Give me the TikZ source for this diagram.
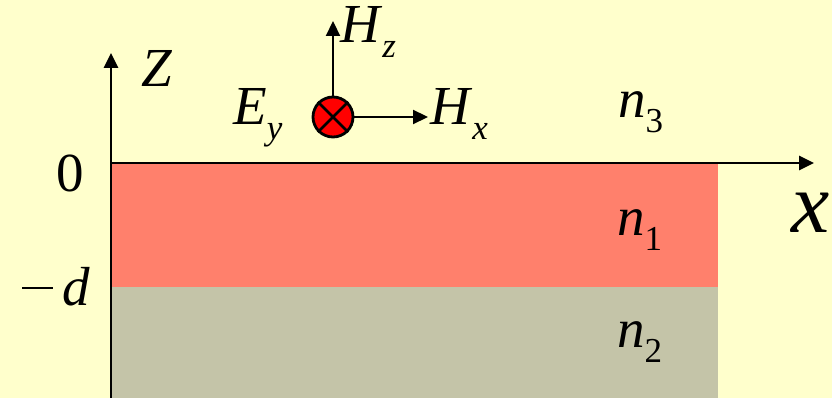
\documentclass[tikz,border=0pt]{standalone}
\usepackage{fontspec}
\setmainfont{Liberation Serif}[ItalicFont={Liberation Serif Italic}]
\usetikzlibrary{arrows.meta}
\definecolor{bg}{RGB}{255,255,204}
\definecolor{redlayer}{RGB}{255,128,108}
\definecolor{graylayer}{RGB}{196,196,168}
\newcommand\bigf{\fontsize{55}{60}\selectfont}
\newcommand\subf{\fontsize{35}{38}\selectfont}
\newcommand\Var[2]{\textit{#1}\raisebox{-15pt}{\subf #2}}
\begin{document}
\begin{tikzpicture}[x=1pt,y=-1pt,
  lbl/.style={inner sep=0pt, anchor=base west, font=\bigf},
  axis/.style={line width=2.8pt, -{Triangle[length=15pt,width=14pt]}},
  vec/.style={line width=2.2pt, -{Triangle[length=15pt,width=14pt]}}]
\fill[bg] (0,0) rectangle (832,398);
\useasboundingbox (0,0) rectangle (832,398);
\fill[redlayer] (111,163) rectangle (718,287);
\fill[graylayer] (111,287) rectangle (718,398);
\coordinate (o) at (111,163);
\coordinate (zb) at (111,398);
\coordinate (zt) at (111,53);
\coordinate (xt) at (814,163);
\draw[axis] (zb) -- (zt);
\draw[axis] (o) -- (xt);
\node[circle, draw, line width=2.8pt, fill=red, minimum size=40pt, inner sep=0pt] (c) at (333,117) {};
\draw[line width=2.6pt] (c.north west) -- (c.south east);
\draw[line width=2.6pt] (c.north east) -- (c.south west);
\coordinate (hzt) at (333,21);
\coordinate (hxt) at (428,117);
\draw[vec] (c.north) -- (hzt);
\draw[vec] (c.east) -- (hxt);
\node[lbl] (Hz) at (340,43) {\Var{H}{\textit{z}}};
\node[lbl] (Hx) at (430,125) {\Var{H}{\textit{x}}};
\node[lbl] (Ey) at (233,125) {\Var{E}{\textit{y}}};
\node[lbl] (n3) at (618,118) {\Var{n}{3}};
\node[lbl] (n1) at (617,235) {\Var{n}{1}};
\node[lbl] (n2) at (617,347) {\Var{n}{2}};
\node[lbl] (Z) at (141,87) {\textit{Z}};
\node[lbl] (zero) at (56,192) {0};
\node[lbl] (md) at (22,305) {\rule[16pt]{31pt}{2.4pt}\hspace{9pt}\textit{d}};
\node[lbl, font=\fontsize{86}{90}\selectfont] (xl) at (791,232) {\textit{x}};
\end{tikzpicture}
\end{document}
